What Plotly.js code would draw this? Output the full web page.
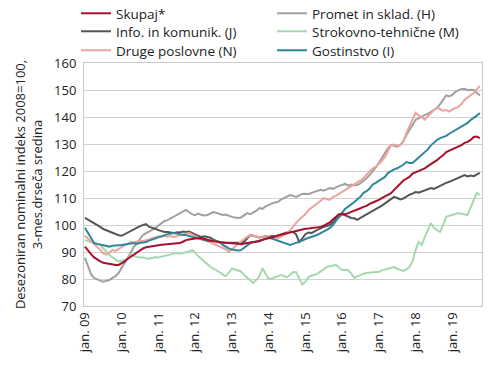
<!DOCTYPE html>
<html>
<head>
<meta charset="utf-8">
<script src="https://cdn.plot.ly/plotly-3.0.1.min.js"></script>
<style>html,body{margin:0;padding:0;background:#fff;}#chart{width:490px;height:382px;}</style>
</head>
<body>
<div id="chart"></div>
<script>
// Month labels Jan 2009 .. Oct 2019 (index 0..129)
const tickYears = ["09","10","11","12","13","14","15","16","17","18","19"];
const tickLabels = tickYears.map(y => "jan. " + y);

const skupaj = [
 92.0, 90.5, 89.2, 88.0, 87.2, 86.5, 86.0, 85.8, 85.5, 85.3, 85.2, 85.2,
 85.8, 86.5, 87.5, 88.3, 89.0, 89.8, 90.6, 91.3, 91.8, 92.0, 92.3, 92.4,
 92.6, 92.7, 92.8, 92.9, 93.0, 93.1, 93.2, 93.3, 93.8, 94.4, 94.6, 94.9,
 95.0, 95.1, 95.2, 94.9, 94.4, 94.2, 94.0, 93.8, 93.7, 93.5, 93.4, 93.3,
 93.3, 93.2, 93.1, 92.9, 93.0, 93.3, 93.5, 93.6, 93.7, 94.0, 94.5, 94.9,
 95.2, 95.4, 95.6, 96.0, 96.4, 96.7, 97.0, 97.3, 97.5, 97.9, 98.1, 98.4,
 98.6, 98.7, 98.9, 99.0, 99.2, 99.3, 99.8, 100.4, 101.0, 102.0, 103.0, 104.0,
 104.2, 104.0, 104.4, 104.8, 105.2, 105.7, 106.2, 106.7, 107.1, 107.8, 108.2, 108.8,
 109.3, 109.8, 110.6, 111.2, 111.8, 113.0, 114.0, 115.3, 116.5, 117.2, 117.8, 119.0,
 119.5, 120.0, 120.4, 121.0, 121.8, 122.5, 123.2, 124.0, 125.0, 125.8, 127.0, 127.5,
 128.0, 128.5, 129.0, 129.6, 130.4, 130.8, 131.5, 132.6, 132.8, 132.2
];
const promet = [
 87.8, 84.5, 81.8, 80.4, 79.8, 79.4, 79.0, 79.2, 79.6, 80.4, 81.0, 82.2,
 84.0, 86.0, 87.5, 89.8, 91.9, 93.5, 95.0, 96.3, 97.0, 97.6, 98.1, 98.8,
 99.8, 100.7, 101.5, 101.8, 102.4, 103.0, 103.6, 104.3, 104.8, 105.6, 104.8, 104.0,
 103.6, 104.2, 103.8, 103.5, 103.7, 104.3, 104.8, 104.5, 104.2, 103.7, 103.9, 103.3,
 103.0, 102.8, 102.6, 102.8, 103.5, 104.4, 104.0, 104.6, 105.3, 106.3, 106.0, 106.9,
 107.5, 107.9, 108.3, 108.5, 109.4, 110.0, 110.6, 111.1, 110.8, 110.4, 111.0, 111.5,
 111.6, 111.4, 111.9, 112.3, 112.6, 113.0, 112.7, 113.3, 113.7, 113.4, 114.0, 114.5,
 114.8, 115.2, 114.6, 115.0, 114.7, 114.8, 115.5, 116.3, 117.3, 118.5, 119.8, 121.3,
 123.0, 124.8, 126.5, 128.5, 129.6, 129.3, 129.0, 129.6, 131.0, 133.3, 135.0, 137.2,
 138.9, 139.5, 140.2, 140.7, 141.2, 141.8, 142.6, 143.3, 144.8, 146.3, 148.0, 147.6,
 148.2, 149.3, 149.8, 150.4, 150.4, 150.0, 150.1, 150.0, 149.0, 148.0
];
const info = [
 102.6, 102.0, 101.3, 100.7, 100.0, 99.3, 98.5, 98.0, 97.5, 97.0, 96.5, 96.2,
 96.0, 96.6, 97.5, 98.0, 98.6, 99.2, 99.6, 100.0, 100.3, 99.3, 99.0, 98.6,
 98.1, 97.8, 97.4, 97.4, 97.2, 97.0, 97.3, 97.2, 97.6, 97.4, 97.6, 96.9,
 96.5, 96.0, 95.6, 95.8, 95.6, 95.3, 94.6, 94.0, 93.5, 93.4, 93.4, 93.5,
 93.4, 93.3, 93.4, 93.5, 93.8, 95.0, 96.3, 96.0, 95.6, 95.4, 95.6, 95.8,
 95.6, 95.9, 95.8, 96.2, 96.6, 97.0, 97.2, 97.4, 97.4, 96.5, 93.7, 95.0,
 96.6, 97.2, 97.0, 97.6, 98.3, 98.8, 99.3, 99.6, 100.0, 101.0, 102.3, 103.0,
 104.0, 103.6, 103.0, 102.6, 102.5, 101.9, 102.6, 103.2, 103.8, 104.4, 105.0, 105.8,
 106.5, 107.2, 108.0, 108.8, 109.6, 110.4, 110.0, 109.5, 109.8, 110.6, 111.2, 111.6,
 112.2, 112.0, 112.5, 112.8, 113.2, 113.7, 113.4, 114.0, 114.5, 115.0, 115.6, 116.0,
 116.5, 117.0, 117.5, 117.8, 118.5, 118.0, 118.3, 118.1, 118.6, 119.3
];
const strokovno = [
 94.4, 94.0, 93.7, 93.3, 93.0, 92.6, 91.3, 90.0, 89.0, 88.0, 87.2, 86.5,
 86.8, 87.2, 87.5, 88.9, 88.5, 88.2, 88.0, 88.0, 87.7, 87.5, 87.8, 88.1,
 88.0, 88.3, 88.7, 89.0, 89.2, 89.4, 89.6, 89.4, 89.6, 89.8, 90.2, 90.7,
 89.8, 88.5, 87.5, 86.3, 85.2, 84.5, 83.8, 83.3, 82.5, 81.7, 81.0, 82.4,
 83.8, 83.5, 83.0, 82.8, 81.5, 80.3, 79.5, 78.5, 79.8, 81.0, 84.0, 82.0,
 80.0, 80.2, 80.5, 81.0, 81.5, 81.0, 80.7, 81.5, 82.6, 82.5, 80.0, 78.0,
 79.0, 80.7, 81.2, 81.6, 82.0, 82.8, 83.6, 84.4, 84.7, 85.0, 85.2, 84.2,
 83.3, 83.3, 83.3, 82.0, 80.4, 81.0, 81.6, 82.0, 82.2, 82.4, 82.6, 82.6,
 82.6, 83.3, 83.5, 83.8, 84.1, 84.4, 83.8, 83.3, 83.0, 83.6, 84.4, 86.5,
 90.7, 93.7, 92.6, 95.5, 98.0, 100.7, 98.9, 98.0, 97.4, 100.0, 103.0, 103.4,
 103.7, 104.0, 104.4, 104.2, 104.0, 103.7, 106.5, 109.5, 111.9, 111.1
];
const druge = [
 96.0, 95.0, 94.0, 93.0, 92.0, 90.8, 89.5, 89.0, 89.8, 90.7, 90.4, 91.2,
 91.9, 92.5, 93.0, 93.7, 93.5, 93.8, 94.2, 94.0, 94.4, 94.6, 95.0, 95.5,
 95.8, 95.6, 96.0, 95.7, 95.9, 95.6, 95.8, 96.2, 96.5, 96.8, 97.0, 96.4,
 95.8, 95.2, 94.8, 94.4, 94.0, 93.6, 93.0, 92.6, 92.0, 91.5, 91.0, 90.0,
 90.8, 91.9, 93.0, 94.0, 94.8, 95.6, 96.3, 96.0, 95.8, 95.5, 95.7, 95.6,
 95.4, 95.2, 95.5, 95.0, 95.6, 96.2, 97.0, 98.0, 99.5, 100.8, 102.0, 103.0,
 104.0, 105.5, 106.3, 107.2, 108.1, 109.0, 110.0, 109.5, 109.3, 110.4, 110.8, 111.5,
 112.2, 112.8, 113.5, 114.2, 114.8, 115.5, 116.5, 117.4, 118.5, 119.8, 121.0, 121.5,
 122.5, 123.8, 125.2, 127.2, 129.6, 129.8, 129.4, 129.6, 131.0, 134.0, 136.5, 139.6,
 141.5, 140.6, 140.0, 139.0, 140.2, 141.8, 142.6, 143.5, 143.0, 142.3, 142.6, 142.0,
 142.8, 143.3, 143.7, 144.8, 146.3, 147.2, 148.0, 148.9, 150.2, 151.5
];
const gostinstvo = [
 99.0, 97.0, 95.0, 93.3, 93.0, 92.8, 92.5, 92.3, 92.0, 92.3, 92.3, 92.5,
 92.6, 92.8, 93.0, 93.2, 93.3, 93.0, 93.4, 93.5, 93.7, 94.2, 94.6, 95.2,
 95.6, 96.0, 96.3, 96.6, 96.8, 97.0, 96.8, 96.5, 96.3, 96.3, 95.8, 95.6,
 95.4, 95.0, 94.6, 94.4, 94.2, 94.4, 94.4, 94.0, 93.7, 92.6, 91.8, 91.3,
 90.9, 90.7, 90.6, 90.7, 91.5, 92.5, 93.3, 93.6, 93.9, 94.2, 94.4, 94.8,
 95.2, 95.0, 94.6, 94.2, 93.7, 93.2, 92.8, 92.6, 93.0, 93.4, 93.7, 94.2,
 94.8, 95.2, 95.4, 95.8, 96.4, 97.0, 97.5, 98.2, 98.9, 100.0, 101.5, 103.0,
 104.5, 106.0, 106.8, 107.5, 108.5, 109.5, 110.5, 111.9, 112.5, 113.5, 115.0, 115.6,
 116.3, 117.2, 117.8, 119.3, 120.0, 120.6, 121.0, 121.5, 122.3, 123.3, 123.0, 123.0,
 124.0, 124.8, 125.8, 127.0, 128.0, 129.5, 130.7, 131.5, 132.2, 132.5, 133.0, 133.8,
 134.5, 135.2, 135.8, 136.5, 137.0, 137.8, 138.9, 139.6, 140.5, 141.5
];

const seriesNames = ["Skupaj*", "Promet in sklad. (H)", "Info. in komunik. (J)", "Strokovno-tehnične (M)", "Druge poslovne (N)", "Gostinstvo (I)"];
const seriesData = [skupaj, promet, info, strokovno, druge, gostinstvo];
const seriesColors = ["#a8102c", "#a0a0a0", "#565656", "#a6d8af", "#eba39c", "#2f8797"];
const legendRow = ["legend", "legend", "legend2", "legend2", "legend3", "legend3"];

const monthIdx = skupaj.map((_, i) => i);
const traces = seriesData.map((d, k) => ({
  type: "scatter", mode: "lines",
  x: monthIdx, y: d, name: seriesNames[k],
  legend: legendRow[k], legendrank: k + 1,
  line: {color: seriesColors[k], width: 2}
}));
// draw order: keep red on top
const order = [1, 2, 3, 4, 5, 0];
const drawTraces = order.map(i => traces[i]);

const font = "Open Sans, sans-serif";
const W = 490, H = 382, ML = 84, MR = 8, MT = 63, MB = 76;
const plotW = W - ML - MR, plotH = H - MT - MB;
function legendAt(yTop) {
  return {
    orientation: "h", xref: "paper", yref: "paper",
    x: (76 - ML) / plotW, y: 1 + (MT - yTop) / plotH, xanchor: "left", yanchor: "top",
    entrywidth: 151, entrywidthmode: "pixels",
    font: {family: font, size: 13.5, color: "#222"},
    itemwidth: 30, bgcolor: "rgba(0,0,0,0)"
  };
}
const layout = {
  width: W, height: H,
  margin: {l: ML, r: MR, t: MT, b: MB, autoexpand: false},
  paper_bgcolor: "#fff", plot_bgcolor: "#fff",
  font: {family: font, size: 13, color: "#222"},
  showlegend: true,
  legend: legendAt(-2),
  legend2: legendAt(16),
  legend3: legendAt(35),
  xaxis: {
    range: [-0.3, 129.7], tickvals: tickYears.map((_, i) => i * 12), ticktext: tickLabels,
    tickangle: -90, showgrid: false, zeroline: false,
    showline: true, mirror: true, linecolor: "#c8c8c8", linewidth: 1,
    ticks: "", tickfont: {family: font, size: 13, color: "#222"}
  },
  yaxis: {
    range: [70, 160], dtick: 10, tick0: 70,
    showgrid: true, gridcolor: "#d0d0d0", gridwidth: 1, zeroline: false,
    showline: true, mirror: true, linecolor: "#c8c8c8", linewidth: 1,
    ticks: "", ticklabelstandoff: 4,
    tickfont: {family: font, size: 13, color: "#222"},
    title: {text: "Desezoniran nominalni indeks 2008=100,<br>3-mes.drseča sredina", font: {family: font, size: 13, color: "#222"}, standoff: 8}
  },
  annotations: [{
    xref: "container", yref: "container", x: 68 / W, y: 16 / H, xanchor: "left", yanchor: "middle",
    text: "Vir: SURS, preračuni UMAR. Opomba: *Z nepremičninami.", showarrow: false,
    font: {family: font, size: 13, color: "#222"}
  }]
};
Plotly.newPlot("chart", drawTraces, layout, {displayModeBar: false, staticPlot: true});
</script>
</body>
</html>
